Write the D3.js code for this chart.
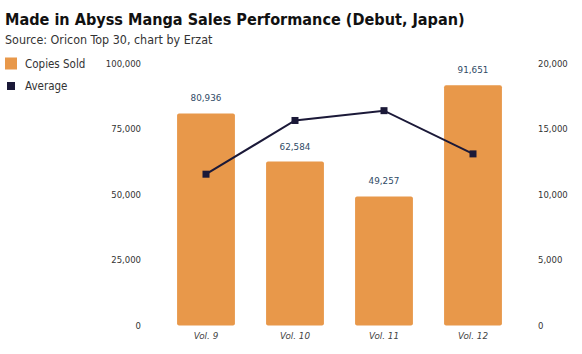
<!DOCTYPE html>
<html>
<head>
<meta charset="utf-8">
<script src="https://cdn.jsdelivr.net/npm/d3@7"></script>
<style>
  body { margin: 0; background: #fff; }
  svg { display: block; font-family: "DejaVu Sans", Verdana, sans-serif; }
</style>
</head>
<body>
<div id="chart"></div>
<script>
// ── Data ──────────────────────────────────────────────────────────────
const volumes = ['Vol. 9', 'Vol. 10', 'Vol. 11', 'Vol. 12'];
const copiesSold = [80936, 62584, 49257, 91651];
const average = [11550, 15650, 16400, 13100];
const leftTicks = [0, 25000, 50000, 75000, 100000];
const rightTicks = [0, 5000, 10000, 15000, 20000];

const W = 582, H = 354;
const barColor = '#E8984A';
const lineColor = '#1B1938';
const condensed = '"DejaVu Sans Condensed", "Liberation Sans", sans-serif';

const svg = d3.select('#chart').append('svg')
  .attr('width', W).attr('height', H);

// ── Title ─────────────────────────────────────────────────────────────
svg.append('text')
  .attr('x', 5).attr('y', 24.5)
  .attr('font-family', condensed)
  .attr('font-size', 16.1).attr('font-weight', 'bold').attr('fill', '#111')
  .text('Made in Abyss Manga Sales Performance (Debut, Japan)');
svg.append('text')
  .attr('x', 5).attr('y', 44)
  .attr('font-family', condensed)
  .attr('font-size', 12.4).attr('fill', '#333')
  .text('Source: Oricon Top 30, chart by Erzat');

// ── Scales ────────────────────────────────────────────────────────────
const x = d3.scaleBand().domain(volumes).range([161.5, 517.5]).paddingInner(0.35).paddingOuter(0.175);
const yL = d3.scaleLinear().domain([0, 100000]).range([325.5, 63.5]);
const yR = d3.scaleLinear().domain([0, 20000]).range([325.5, 63.5]);
const fmt = d3.format(',');

// ── Axes (labels only) ───────────────────────────────────────────────
const axL = svg.append('g').attr('transform', 'translate(141,0)')
  .call(d3.axisLeft(yL).tickValues(leftTicks).tickFormat(fmt).tickSize(0).tickPadding(0));
const axR = svg.append('g').attr('transform', 'translate(538,0)')
  .call(d3.axisRight(yR).tickValues(rightTicks).tickFormat(fmt).tickSize(0).tickPadding(0));
[axL, axR].forEach(a => {
  a.select('.domain').remove();
  a.selectAll('text').attr('font-size', 8.5).attr('fill', '#333').attr('font-family', '"DejaVu Sans", Verdana, sans-serif');
});

// ── Bars ──────────────────────────────────────────────────────────────
svg.append('g').selectAll('rect')
  .data(volumes)
  .join('rect')
    .attr('x', d => x(d))
    .attr('width', x.bandwidth())
    .attr('y', (d, i) => yL(copiesSold[i]))
    .attr('height', (d, i) => yL(0) - yL(copiesSold[i]))
    .attr('rx', 2)
    .attr('fill', barColor);

svg.append('g').selectAll('text')
  .data(volumes)
  .join('text')
    .attr('x', d => x(d) + x.bandwidth() / 2)
    .attr('y', (d, i) => yL(copiesSold[i]) - 12)
    .attr('text-anchor', 'middle')
    .attr('font-size', 8.8)
    .attr('fill', '#2F4A66')
    .text((d, i) => fmt(copiesSold[i]));

// ── X labels ──────────────────────────────────────────────────────────
svg.append('g').selectAll('text')
  .data(volumes)
  .join('text')
    .attr('x', d => x(d) + x.bandwidth() / 2)
    .attr('y', 338.5)
    .attr('text-anchor', 'middle')
    .attr('font-size', 8.8)
    .attr('font-style', 'italic')
    .attr('fill', '#444')
    .text(d => d);

// ── Average line ─────────────────────────────────────────────────────
const line = d3.line()
  .x((d, i) => x(volumes[i]) + x.bandwidth() / 2)
  .y(d => yR(d));
svg.append('path')
  .datum(average)
  .attr('d', line)
  .attr('fill', 'none')
  .attr('stroke', lineColor)
  .attr('stroke-width', 2);
svg.append('g').selectAll('rect')
  .data(average)
  .join('rect')
    .attr('x', (d, i) => x(volumes[i]) + x.bandwidth() / 2 - 3.5)
    .attr('y', d => yR(d) - 3.5)
    .attr('width', 7).attr('height', 7)
    .attr('fill', lineColor);

// ── Legend ───────────────────────────────────────────────────────────
const legend = [
  { label: 'Copies Sold', color: barColor, size: 12, y: 63.5 },
  { label: 'Average', color: lineColor, size: 8, y: 86 }
];
const lg = svg.append('g');
lg.selectAll('rect')
  .data(legend)
  .join('rect')
    .attr('x', d => 11 - d.size / 2)
    .attr('y', d => d.y - d.size / 2)
    .attr('width', d => d.size).attr('height', d => d.size)
    .attr('fill', d => d.color);
lg.selectAll('text')
  .data(legend)
  .join('text')
    .attr('x', 25).attr('y', d => d.y + 4)
    .attr('font-family', condensed)
    .attr('font-size', 11.5).attr('fill', '#333')
    .text(d => d.label);
</script>
</body>
</html>
